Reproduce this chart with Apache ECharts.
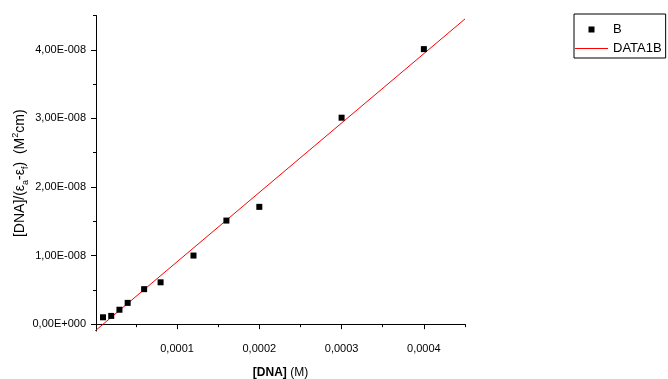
<!DOCTYPE html>
<html>
<head>
<meta charset="utf-8">
<script src="https://cdn.jsdelivr.net/npm/echarts@6/dist/echarts.min.js"></script>
<style>
  html, body { margin: 0; padding: 0; background: #fff; }
  #chart { width: 668px; height: 379px; }
</style>
</head>
<body>
<div id="chart"></div>
<script>
// Measured points: DNA concentration (M) vs [DNA]/(εa-εf) (M²cm)
const dnaConc = [0.00001, 0.00002, 0.00003, 0.00004, 0.00006, 0.00008, 0.00012, 0.00016, 0.0002, 0.0003, 0.0004];
const ratioB  = [0.10e-8, 0.12e-8, 0.21e-8, 0.31e-8, 0.51e-8, 0.61e-8, 1.00e-8, 1.51e-8, 1.71e-8, 3.01e-8, 4.01e-8];

// Linear fit line (DATA1B), end points
const fitX = [0, 0.00045];
const fitY = [-0.103e-8, 4.45e-8];

// Axis ticks and labels
const xTickValues = [0.0001, 0.0002, 0.0003, 0.0004];
const xTickLabels = ['0,0001', '0,0002', '0,0003', '0,0004'];
const xMinorTicks = [0.00005, 0.00015, 0.00025, 0.00035, 0.00045];
const yTickValues = [0, 1e-8, 2e-8, 3e-8, 4e-8];
const yTickLabels = ['0,00E+000', '1,00E-008', '2,00E-008', '3,00E-008', '4,00E-008'];
const yMinorTicks = [0.5e-8, 1.5e-8, 2.5e-8, 3.5e-8, 4.5e-8];

const X_MIN = 0.0000015, X_MAX = 0.00045;
const Y_MIN = -0.1e-8, Y_MAX = 4.5e-8;

const FONT = '"Liberation Sans", Arial, sans-serif';
const AXIS_COLOR = '#000';

// Legend glyphs: a small square centred in the item slot, and a thin horizontal stroke
const SQUARE_ICON = 'path://M0,0L33,0L33,0.001L0,0.001Z M13.5,0.5L19.5,0.5L19.5,6.5L13.5,6.5Z M0,7L33,7L33,6.999L0,6.999Z';
const LINE_ICON = 'path://M0,0L33,0L33,1L0,1Z';

function labelFor(values, labels, tol) {
  return (v) => {
    const i = values.findIndex(t => Math.abs(t - v) < tol);
    return i >= 0 ? labels[i] : '';
  };
}

function pairs(xs, ys) { return xs.map((x, i) => [x, ys[i]]); }

const chart = echarts.init(document.getElementById('chart'), null, { renderer: 'canvas' });

chart.setOption({
  backgroundColor: '#fff',
  animation: false,
  textStyle: { fontFamily: FONT },
  grid: { left: 96, right: 203, top: 15.5, bottom: 48, containLabel: false, outerBoundsMode: 'none' },
  legend: {
    orient: 'vertical',
    left: 574, top: 14,
    padding: [9, 4, 3, 1],
    itemGap: 6,
    itemWidth: 33,
    itemHeight: 7,
    symbolKeepAspect: true,
    borderColor: '#000',
    borderWidth: 1,
    borderRadius: 0,
    textStyle: { fontFamily: FONT, fontSize: 13, color: '#000' },
    data: [
      { name: 'B', icon: SQUARE_ICON, itemStyle: { color: '#000', opacity: 1 } },
      { name: 'DATA1B', icon: LINE_ICON, itemStyle: { color: '#ff0000' } }
    ]
  },
  xAxis: [
    {
      type: 'value', min: X_MIN, max: X_MAX, position: 'bottom',
      name: '{b|[DNA]}{n| (M)}',
      nameLocation: 'middle', nameGap: 36, nameMoveOverlap: false,
      nameTextStyle: {
        rich: {
          b: { fontFamily: FONT, fontSize: 12, fontWeight: 'bold', color: '#000' },
          n: { fontFamily: FONT, fontSize: 12, color: '#000' }
        }
      },
      axisLine: { show: true, lineStyle: { color: AXIS_COLOR, width: 1 } },
      axisTick: { show: true, length: 5, inside: false, customValues: xTickValues, lineStyle: { color: AXIS_COLOR } },
      axisLabel: {
        show: true, customValues: xTickValues, margin: 12,
        fontFamily: FONT, fontSize: 11, color: '#000',
        formatter: labelFor(xTickValues, xTickLabels, 1e-7)
      },
      splitLine: { show: false }
    },
    {
      type: 'value', min: X_MIN, max: X_MAX, position: 'bottom', gridIndex: 0,
      axisLine: { show: false },
      axisTick: { show: true, length: 3, inside: false, customValues: xMinorTicks, lineStyle: { color: AXIS_COLOR } },
      axisLabel: { show: false },
      splitLine: { show: false }
    }
  ],
  yAxis: [
    {
      type: 'value', min: Y_MIN, max: Y_MAX, position: 'left',
      name: '{t|[DNA]/(ε}{s|a}{t|-ε}{s|f}{t|)  (M}{p|2}{t|cm)}',
      nameLocation: 'middle', nameRotate: 90, nameGap: 66, nameMoveOverlap: false,
      nameTextStyle: {
        rich: {
          t: { fontFamily: FONT, fontSize: 14, color: '#000', lineHeight: 19 },
          s: { fontFamily: FONT, fontSize: 9, color: '#000', lineHeight: 9, verticalAlign: 'bottom' },
          p: { fontFamily: FONT, fontSize: 9, color: '#000', lineHeight: 9, verticalAlign: 'top' }
        }
      },
      axisLine: { show: true, lineStyle: { color: AXIS_COLOR, width: 1 } },
      axisTick: { show: true, length: 5, inside: false, customValues: yTickValues, lineStyle: { color: AXIS_COLOR } },
      axisLabel: {
        show: true, customValues: yTickValues, margin: 10,
        fontFamily: FONT, fontSize: 11, color: '#000',
        formatter: labelFor(yTickValues, yTickLabels, 1e-11)
      },
      splitLine: { show: false }
    },
    {
      type: 'value', min: Y_MIN, max: Y_MAX, position: 'left', gridIndex: 0,
      axisLine: { show: false },
      axisTick: { show: true, length: 3, inside: false, customValues: yMinorTicks, lineStyle: { color: AXIS_COLOR } },
      axisLabel: { show: false },
      splitLine: { show: false }
    }
  ],
  series: [
    {
      name: 'DATA1B', type: 'line',
      data: pairs(fitX, fitY),
      showSymbol: false, symbol: 'none',
      clip: true,
      lineStyle: { color: '#ff0000', width: 1 },
      itemStyle: { color: '#ff0000' },
      z: 2
    },
    {
      name: 'B', type: 'scatter',
      data: pairs(dnaConc, ratioB),
      symbol: 'rect', symbolSize: 6,
      itemStyle: { color: '#000', opacity: 1 },
      z: 3
    }
  ]
});
</script>
</body>
</html>
